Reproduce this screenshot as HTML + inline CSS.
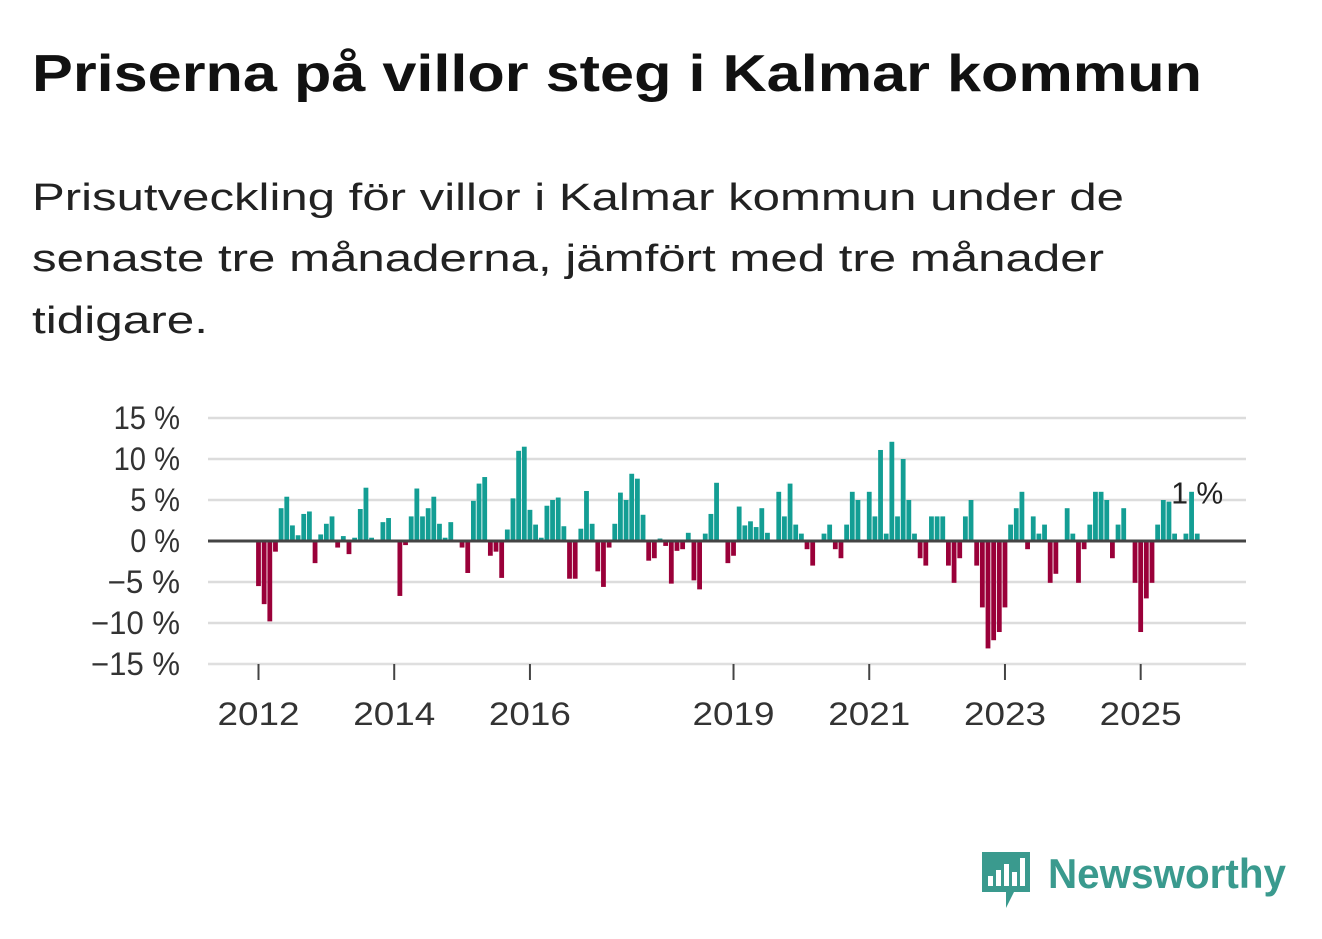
<!DOCTYPE html>
<html><head><meta charset="utf-8"><style>
html,body{margin:0;padding:0;background:#fff;}
svg{display:block;font-family:"Liberation Sans",sans-serif;}
</style></head><body>
<svg id="chart" width="1322" height="939" viewBox="0 0 1322 939" xmlns="http://www.w3.org/2000/svg">
<text x="32" y="91" font-size="52" font-weight="bold" fill="#111" textLength="1170" lengthAdjust="spacingAndGlyphs">Priserna på villor steg i Kalmar kommun</text>
<g font-size="38" fill="#222">
<text x="32" y="210" textLength="1092" lengthAdjust="spacingAndGlyphs">Prisutveckling för villor i Kalmar kommun under de</text>
<text x="32" y="271" textLength="1072" lengthAdjust="spacingAndGlyphs">senaste tre månaderna, jämfört med tre månader</text>
<text x="32" y="333" textLength="176" lengthAdjust="spacingAndGlyphs">tidigare.</text>
</g>
<g id="grid"></g><g id="bars"></g><g id="axes"></g>
<g>
<path d="M982 852 h48 v40 h-16 l-8 16 v-16 h-24 z" fill="#3a9a8e"/>
<rect x="988" y="876" width="5" height="10" fill="#fff"/><rect x="996" y="870" width="5" height="16" fill="#fff"/><rect x="1004" y="864" width="5" height="22" fill="#fff"/><rect x="1012" y="872" width="5" height="14" fill="#fff"/><rect x="1020" y="858" width="5" height="28" fill="#fff"/>
<text x="1048" y="888" font-size="42" font-weight="bold" fill="#3a9a8e" textLength="238" lengthAdjust="spacingAndGlyphs">Newsworthy</text>
</g>
</svg>
<script>
const startYear = 2012;
const values = [-5.5,-7.7,-9.8,-1.3,4.0,5.4,1.9,0.7,3.3,3.6,-2.7,0.8,2.1,3.0,-0.8,0.6,-1.6,0.4,3.9,6.5,0.4,0,2.3,2.8,0,-6.7,-0.5,3.0,6.4,3.0,4.0,5.4,2.1,0.4,2.3,0,-0.8,-3.9,4.9,7.0,7.8,-1.8,-1.3,-4.5,
1.4,5.2,11.0,11.5,3.8,2.0,0.4,4.3,5.0,5.3,1.8,-4.6,-4.6,1.5,6.1,2.1,-3.7,-5.6,-0.8,2.1,5.9,5.0,8.2,7.6,3.2,-2.4,-2.1,0.3,-0.6,-5.2,-1.2,-1.0,1.0,-4.8,-5.9,0.9,3.3,7.1,0,-2.7,-1.8,4.2,
1.9,2.4,1.7,4.0,1.0,0,6.0,3.0,7.0,2.0,0.9,-1.0,-3.0,0,0.9,2.0,-1.0,-2.1,2.0,6.0,5.0,0,6.0,3.0,11.1,0.9,12.1,3.0,10.0,5.0,0.9,-2.1,-3.0,3.0,3.0,3.0,-3.0,-5.1,-2.1,3.0,5.0,-3.0,
-8.1,-13.1,-12.1,-11.1,-8.1,2.0,4.0,6.0,-1.0,3.0,0.9,2.0,-5.1,-4.0,0,4.0,0.9,-5.1,-1.0,2.0,6.0,6.0,5.0,-2.1,2.0,4.0,0,-5.1,-11.1,-7.0,-5.1,2.0,5.0,4.8,0.9,0,0.9,6.0,0.9];
const yTicks = [15,10,5,0,-5,-10,-15];
const yTickLabels = ["15 %","10 %","5 %","0 %","−5 %","−10 %","−15 %"];
const xTickYears = [2012,2014,2016,2019,2021,2023,2025];
const lastLabel = "1 %";

const NS="http://www.w3.org/2000/svg";
const X0=258.5, STEP=5.655, Y0=541, PPU=8.2;
const xPos=i=>X0+i*STEP;
const yPos=v=>Y0-v*PPU;
function mk(tag,attrs,parent){const e=document.createElementNS(NS,tag);for(const k in attrs)e.setAttribute(k,attrs[k]);parent.appendChild(e);return e;}
const grid=document.getElementById('grid'),bars=document.getElementById('bars'),axes=document.getElementById('axes');
yTicks.forEach((t,i)=>{
  if(t!==0){const l=mk('line',{x1:208,x2:1246,y1:yPos(t),y2:yPos(t),stroke:'#dcdcdc','stroke-width':2.5},grid);
  
  }
  const lbl=yTickLabels[i];
  const w=lbl.length*16.6+(lbl.startsWith('−')?6:0);
  const tx=mk('text',{x:180,y:yPos(t)+11,'font-size':32,fill:'#333','text-anchor':'end',textLength:w,lengthAdjust:'spacingAndGlyphs'},axes);
  tx.textContent=lbl;
  
  
});
values.forEach((v,i)=>{
  const r=mk('rect',{x:xPos(i)-2.4,width:4.8,y:Math.min(yPos(v),Y0),height:Math.abs(v*PPU),fill:v>=0?'#139e94':'#9a0039'},bars);
  
  
});
const z=mk('line',{x1:208,x2:1246,y1:Y0,y2:Y0,stroke:'#444','stroke-width':3},axes);


const xa=mk('line',{x1:208,x2:1246,y1:664,y2:664,stroke:'#e0e0e0','stroke-width':1.5},axes);


xTickYears.forEach(y=>{
  const x=xPos((y-startYear)*12);
  const tk=mk('line',{x1:x,x2:x,y1:664,y2:680,stroke:'#444','stroke-width':2},axes);
  
  
  const t=mk('text',{x:x,y:725,'font-size':32,fill:'#333','text-anchor':'middle',textLength:82,lengthAdjust:'spacingAndGlyphs'},axes);
  t.textContent=String(y);
  
  
});
const li=values.length-1;
const lab=mk('text',{x:xPos(li),y:Math.min(yPos(values[li]),Y0)-30,'font-size':31,fill:'#222','text-anchor':'middle',textLength:52,lengthAdjust:'spacingAndGlyphs'},axes);
lab.textContent=lastLabel;


</script>
</body></html>
